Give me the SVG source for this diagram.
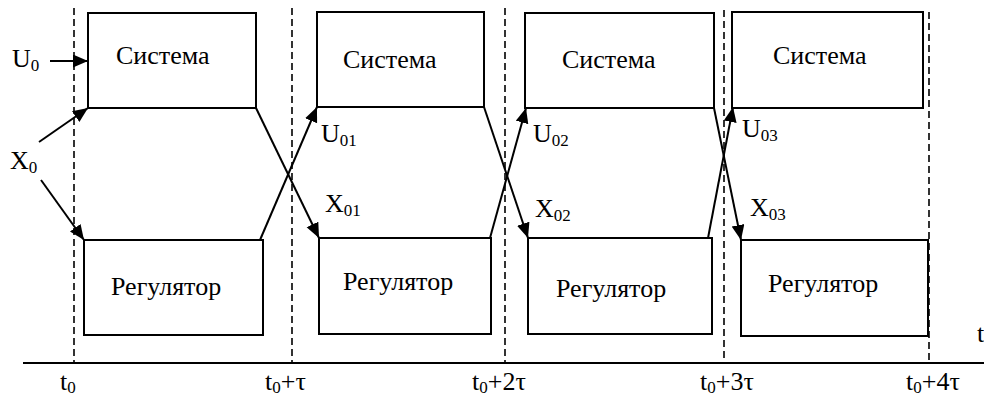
<svg xmlns="http://www.w3.org/2000/svg" width="984" height="398" viewBox="0 0 984 398" font-family="Liberation Serif, Times New Roman, serif">
  <style>
    .box { fill: #fff; stroke: #000; stroke-width: 2; }
    .lbl { font-family: 'Liberation Serif', serif; font-size: 26px; fill: #000; }
    .sub { font-size: 17px; }
    .grid { stroke: #000; stroke-width: 1.6; stroke-dasharray: 7 4; fill: none; }
    .arr { stroke: #000; stroke-width: 2; fill: none; marker-end: url(#head); }
  </style>
  <defs>
    <marker id="head" markerUnits="userSpaceOnUse" markerWidth="16" markerHeight="14" refX="15" refY="6.5" orient="auto">
      <path d="M0,0 L15,6.5 L0,13 Z" fill="#000"/>
    </marker>
  </defs>

  <!-- time axis and moments t0 ... t0+4τ -->
  <g id="axis">
    <line x1="23" y1="363" x2="984" y2="363" stroke="#000" stroke-width="2"/>
    <line class="grid" x1="74" y1="8" x2="74" y2="363"/>
    <line class="grid" x1="292" y1="8" x2="292" y2="363"/>
    <line class="grid" x1="505" y1="8" x2="505" y2="363"/>
    <line class="grid" x1="724" y1="10" x2="724" y2="363"/>
    <line class="grid" x1="929" y1="12" x2="929" y2="363"/>
    <text class="lbl" x="60" y="390">t<tspan class="sub" dy="3">0</tspan></text>
    <text class="lbl" x="265" y="390">t<tspan class="sub" dy="3">0</tspan><tspan dy="-3">+τ</tspan></text>
    <text class="lbl" x="472" y="390">t<tspan class="sub" dy="3">0</tspan><tspan dy="-3">+2τ</tspan></text>
    <text class="lbl" x="700" y="390">t<tspan class="sub" dy="3">0</tspan><tspan dy="-3">+3τ</tspan></text>
    <text class="lbl" x="906" y="390">t<tspan class="sub" dy="3">0</tspan><tspan dy="-3">+4τ</tspan></text>
    <text class="lbl" x="977" y="342">t</text>
  </g>

  <!-- systems -->
  <g id="sys1">
    <rect class="box" x="88" y="13" width="168" height="95"/>
    <text class="lbl" x="116" y="64">Система</text>
  </g>
  <g id="sys2">
    <rect class="box" x="317" y="12" width="167" height="95"/>
    <text class="lbl" x="343" y="68">Система</text>
  </g>
  <g id="sys3">
    <rect class="box" x="525" y="13" width="189" height="95"/>
    <text class="lbl" x="562" y="68">Система</text>
  </g>
  <g id="sys4">
    <rect class="box" x="732" y="12" width="191" height="96"/>
    <text class="lbl" x="773" y="64">Система</text>
  </g>

  <!-- regulators -->
  <g id="reg1">
    <rect class="box" x="84" y="240" width="179" height="95"/>
    <text class="lbl" x="111" y="295">Регулятор</text>
  </g>
  <g id="reg2">
    <rect class="box" x="319" y="238" width="172" height="96"/>
    <text class="lbl" x="343" y="290">Регулятор</text>
  </g>
  <g id="reg3">
    <rect class="box" x="528" y="238" width="184" height="96"/>
    <text class="lbl" x="556" y="297">Регулятор</text>
  </g>
  <g id="reg4">
    <rect class="box" x="741" y="240" width="187" height="96"/>
    <text class="lbl" x="768" y="292">Регулятор</text>
  </g>

  <!-- signal transfers between stages -->
  <g id="connectors">
    <line class="arr" x1="50" y1="61" x2="88" y2="61"/>
    <line class="arr" x1="39" y1="142" x2="88" y2="108"/>
    <line class="arr" x1="41" y1="180" x2="84" y2="240"/>
    <line class="arr" x1="256" y1="108" x2="319" y2="238"/>
    <line class="arr" x1="260" y1="240" x2="317" y2="107"/>
    <line class="arr" x1="484" y1="107" x2="528" y2="238"/>
    <line class="arr" x1="490" y1="238" x2="526" y2="108"/>
    <line class="arr" x1="714" y1="108" x2="741" y2="240"/>
    <line class="arr" x1="708" y1="238" x2="733" y2="107"/>
  </g>

  <!-- signal labels -->
  <g id="labels">
    <text class="lbl" x="12" y="67">U<tspan class="sub" dy="4">0</tspan></text>
    <text class="lbl" x="10" y="169">X<tspan class="sub" dy="4">0</tspan></text>
    <text class="lbl" x="321" y="142">U<tspan class="sub" dy="4">01</tspan></text>
    <text class="lbl" x="325" y="212">X<tspan class="sub" dy="4">01</tspan></text>
    <text class="lbl" x="533" y="142">U<tspan class="sub" dy="4">02</tspan></text>
    <text class="lbl" x="535" y="217">X<tspan class="sub" dy="4">02</tspan></text>
    <text class="lbl" x="742" y="137">U<tspan class="sub" dy="4">03</tspan></text>
    <text class="lbl" x="750" y="216">X<tspan class="sub" dy="4">03</tspan></text>
  </g>
</svg>
